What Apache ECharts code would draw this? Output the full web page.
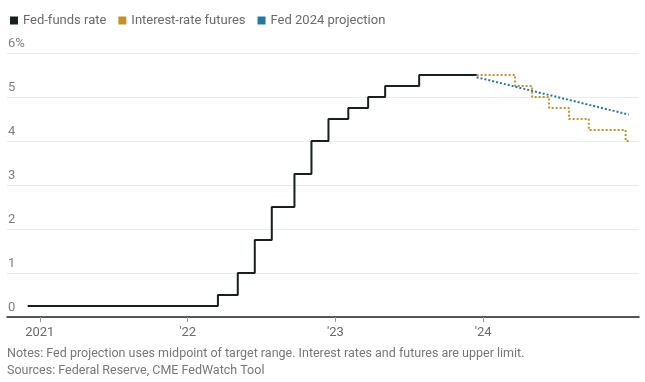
<!DOCTYPE html>
<html>
<head>
<meta charset="utf-8">
<script src="https://cdn.jsdelivr.net/npm/echarts@6/dist/echarts.min.js"></script>
<style>
html,body{margin:0;padding:0;background:#fff;}
#chart{width:645px;height:382px;}
</style>
</head>
<body>
<div id="chart"></div>
<script>
// Fed-funds rate (upper limit): date of change, new rate
const fedFundsDates = ['2020-12-02','2022-03-17','2022-05-05','2022-06-16','2022-07-28','2022-09-22','2022-11-03','2022-12-15','2023-02-02','2023-03-23','2023-05-04','2023-07-27','2023-12-16'];
const fedFundsValues = [0.25, 0.5, 1.0, 1.75, 2.5, 3.25, 4.0, 4.5, 4.75, 5.0, 5.25, 5.5, 5.5];
// Interest-rate futures (upper limit)
const futuresDates = ['2023-12-16','2024-03-20','2024-05-01','2024-06-12','2024-07-31','2024-09-18','2024-12-18','2024-12-28'];
const futuresValues = [5.5, 5.25, 5.0, 4.75, 4.5, 4.25, 4.0, 4.0];
// Fed 2024 projection (midpoint)
const projectionDates = ['2023-12-16','2024-12-26'];
const projectionValues = [5.45, 4.6];
// Axis ticks
const yearTicks = [2021, 2022, 2023, 2024];
const yTicks = [0, 1, 2, 3, 4, 5, 6];

const seriesNames = ['Fed-funds rate', 'Interest-rate futures', 'Fed 2024 projection'];
const colors = ['#16211f', '#c4912b', '#23789b'];

function ts(s) { return Date.parse(s + 'T00:00:00Z'); }
function pairs(d, v) { return d.map((x, i) => [ts(x), v[i]]); }
const yearTs = yearTicks.map(y => Date.UTC(y, 0, 1));

const font = 'Roboto, "Liberation Sans", sans-serif';
const chart = echarts.init(document.getElementById('chart'));
chart.setOption({
  animation: false,
  backgroundColor: '#fff',
  textStyle: { fontFamily: font },
  legend: {
    left: 5, top: 9,
    icon: 'rect', itemWidth: 8, itemHeight: 8, itemGap: 12,
    textStyle: { fontSize: 13, color: '#6a6a6a', fontFamily: font },
    data: seriesNames
  },
  title: {
    text: 'Notes: Fed projection uses midpoint of target range. Interest rates and futures are upper limit.\nSources: Federal Reserve, CME FedWatch Tool',
    left: 2, top: 340,
    textStyle: { fontSize: 12.5, fontWeight: 'normal', color: '#777', lineHeight: 17, fontFamily: font }
  },
  grid: { left: 7, right: 6, top: 53, bottom: 65 },
  xAxis: {
    type: 'value',
    min: ts('2020-10-12'),
    max: ts('2025-01-20'),
    axisLine: { show: true, lineStyle: { color: '#222', width: 1.5 } },
    axisTick: { show: true, length: 5, customValues: yearTs, lineStyle: { color: '#999' } },
    axisLabel: {
      customValues: yearTs, margin: 9, fontSize: 13, color: '#6a6a6a', fontFamily: font,
      formatter: function (v) {
        const y = new Date(v).getUTCFullYear();
        return y === 2021 ? '2021' : "'" + String(y).slice(2);
      }
    },
    splitLine: { show: false }
  },
  yAxis: {
    type: 'value', min: 0, max: 6, interval: 1,
    axisLine: { show: false }, axisTick: { show: false },
    splitLine: { lineStyle: { color: '#ebebeb', width: 1 } },
    axisLabel: {
      inside: true, margin: 1, verticalAlign: 'bottom', padding: [0, 0, 3, 0],
      fontSize: 13, color: '#808080', fontFamily: font,
      formatter: function (v) { return v === 6 ? '6%' : String(v); }
    }
  },
  series: [
    {
      name: seriesNames[1], type: 'line', step: 'end', symbol: 'none',
      data: pairs(futuresDates, futuresValues),
      itemStyle: { color: colors[1] },
      lineStyle: { color: colors[1], width: 2, type: [2, 2] }
    },
    {
      name: seriesNames[2], type: 'line', symbol: 'none',
      data: pairs(projectionDates, projectionValues),
      itemStyle: { color: colors[2] },
      lineStyle: { color: colors[2], width: 2, type: [2, 2] }
    },
    {
      name: seriesNames[0], type: 'line', step: 'end', symbol: 'none',
      data: pairs(fedFundsDates, fedFundsValues),
      itemStyle: { color: colors[0] },
      lineStyle: { color: colors[0], width: 2 }
    }
  ]
});
</script>
</body>
</html>
